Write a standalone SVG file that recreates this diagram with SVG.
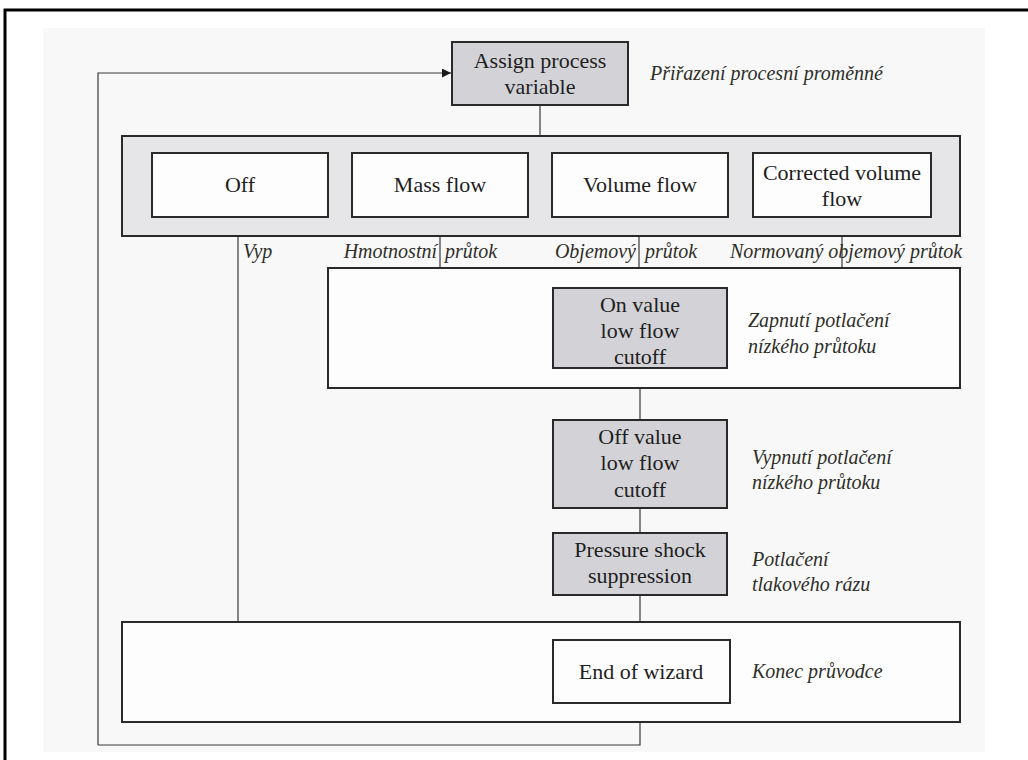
<svg xmlns="http://www.w3.org/2000/svg" width="1028" height="760" viewBox="0 0 1028 760">
  <style>
    .box { stroke: #2a2a2a; stroke-width: 2; }
    .grey { fill: #d3d3d7; }
    .white { fill: #fdfdfd; }
    .panel { fill: #e6e6e9; }
    .t { font-family: "Liberation Serif", "DejaVu Serif", serif; font-size: 22px; fill: #1e1e1e; text-anchor: middle; }
    .lbl { font-family: "Liberation Serif", "DejaVu Serif", serif; font-style: italic; font-size: 20px; fill: #2e2e28; }
    .wire { stroke: #3a3a3a; stroke-width: 1.2; fill: none; }
  </style>
  <defs>
    <marker id="arrow" viewBox="0 0 10 10" refX="10" refY="5" markerWidth="9" markerHeight="9" markerUnits="userSpaceOnUse" orient="auto">
      <path d="M0,0 L10,5 L0,10 z" fill="#1a1a1a"/>
    </marker>
  </defs>

  <!-- page -->
  <rect x="0" y="0" width="1028" height="760" fill="#ffffff"/>
  <rect x="43" y="28" width="942" height="724" fill="#f8f8f8"/>
  <rect x="5" y="10" width="1100" height="800" fill="none" stroke="#000" stroke-width="3"/>

  <!-- connectors -->
  <g id="connectors">
    <path class="wire" d="M98,745 L98,73 L451,73" marker-end="url(#arrow)"/>
    <path class="wire" d="M98,745 L640,745 L640,722"/>
    <line class="wire" x1="540" y1="105" x2="540" y2="136"/>
    <line class="wire" x1="238" y1="236" x2="238" y2="622"/>
    <line class="wire" x1="440" y1="236" x2="440" y2="268"/>
    <line class="wire" x1="639" y1="236" x2="639" y2="268"/>
    <line class="wire" x1="842" y1="236" x2="842" y2="268"/>
    <line class="wire" x1="640" y1="388" x2="640" y2="420"/>
    <line class="wire" x1="640" y1="508" x2="640" y2="533"/>
    <line class="wire" x1="640" y1="595" x2="640" y2="622"/>
  </g>

  <!-- assign process variable -->
  <g id="assign">
    <rect class="box grey" x="452" y="42" width="176" height="63"/>
    <text class="t" x="540" y="68">Assign process</text>
    <text class="t" x="540" y="94">variable</text>
    <text class="lbl" x="650" y="80">Přiřazení procesní proměnné</text>
  </g>

  <!-- selection panel -->
  <g id="selection">
    <rect class="box panel" x="122" y="136" width="838" height="100"/>
  </g>
  <g id="off">
    <rect class="box white" x="152" y="153" width="176" height="64"/>
    <text class="t" x="240" y="192">Off</text>
    <text class="lbl" x="243" y="258">Vyp</text>
  </g>
  <g id="mass-flow">
    <rect class="box white" x="352" y="153" width="176" height="64"/>
    <text class="t" x="440" y="192">Mass flow</text>
    <text class="lbl" x="437" y="258" text-anchor="end">Hmotnostní</text>
    <text class="lbl" x="445" y="258">průtok</text>
  </g>
  <g id="volume-flow">
    <rect class="box white" x="552" y="153" width="176" height="64"/>
    <text class="t" x="640" y="192">Volume flow</text>
    <text class="lbl" x="636" y="258" text-anchor="end">Objemový</text>
    <text class="lbl" x="645" y="258">průtok</text>
  </g>
  <g id="corrected-volume-flow">
    <rect class="box white" x="753" y="153" width="178" height="64"/>
    <text class="t" x="842" y="180">Corrected volume</text>
    <text class="t" x="842" y="206">flow</text>
    <text class="lbl" x="730" y="258">Normovaný objemový průtok</text>
  </g>

  <!-- low flow cutoff panel -->
  <g id="cutoff-panel">
    <rect class="box white" x="328" y="268" width="632" height="120"/>
  </g>
  <g id="on-value">
    <rect class="box grey" x="553" y="288" width="174" height="80"/>
    <text class="t" x="640" y="312">On value</text>
    <text class="t" x="640" y="338">low flow</text>
    <text class="t" x="640" y="364">cutoff</text>
    <text class="lbl" x="748" y="327">Zapnutí potlačení</text>
    <text class="lbl" x="748" y="353">nízkého průtoku</text>
  </g>
  <g id="off-value">
    <rect class="box grey" x="553" y="420" width="174" height="88"/>
    <text class="t" x="640" y="444">Off value</text>
    <text class="t" x="640" y="470">low flow</text>
    <text class="t" x="640" y="497">cutoff</text>
    <text class="lbl" x="752" y="464">Vypnutí potlačení</text>
    <text class="lbl" x="752" y="489">nízkého průtoku</text>
  </g>
  <g id="pressure-shock">
    <rect class="box grey" x="553" y="533" width="174" height="62"/>
    <text class="t" x="640" y="557">Pressure shock</text>
    <text class="t" x="640" y="583">suppression</text>
    <text class="lbl" x="752" y="566">Potlačení</text>
    <text class="lbl" x="752" y="591">tlakového rázu</text>
  </g>

  <!-- end panel -->
  <g id="end-panel">
    <rect class="box white" x="122" y="622" width="838" height="100"/>
  </g>
  <g id="end-of-wizard">
    <rect class="box white" x="553" y="640" width="177" height="63"/>
    <text class="t" x="641" y="679">End of wizard</text>
    <text class="lbl" x="752" y="678">Konec průvodce</text>
  </g>
</svg>
